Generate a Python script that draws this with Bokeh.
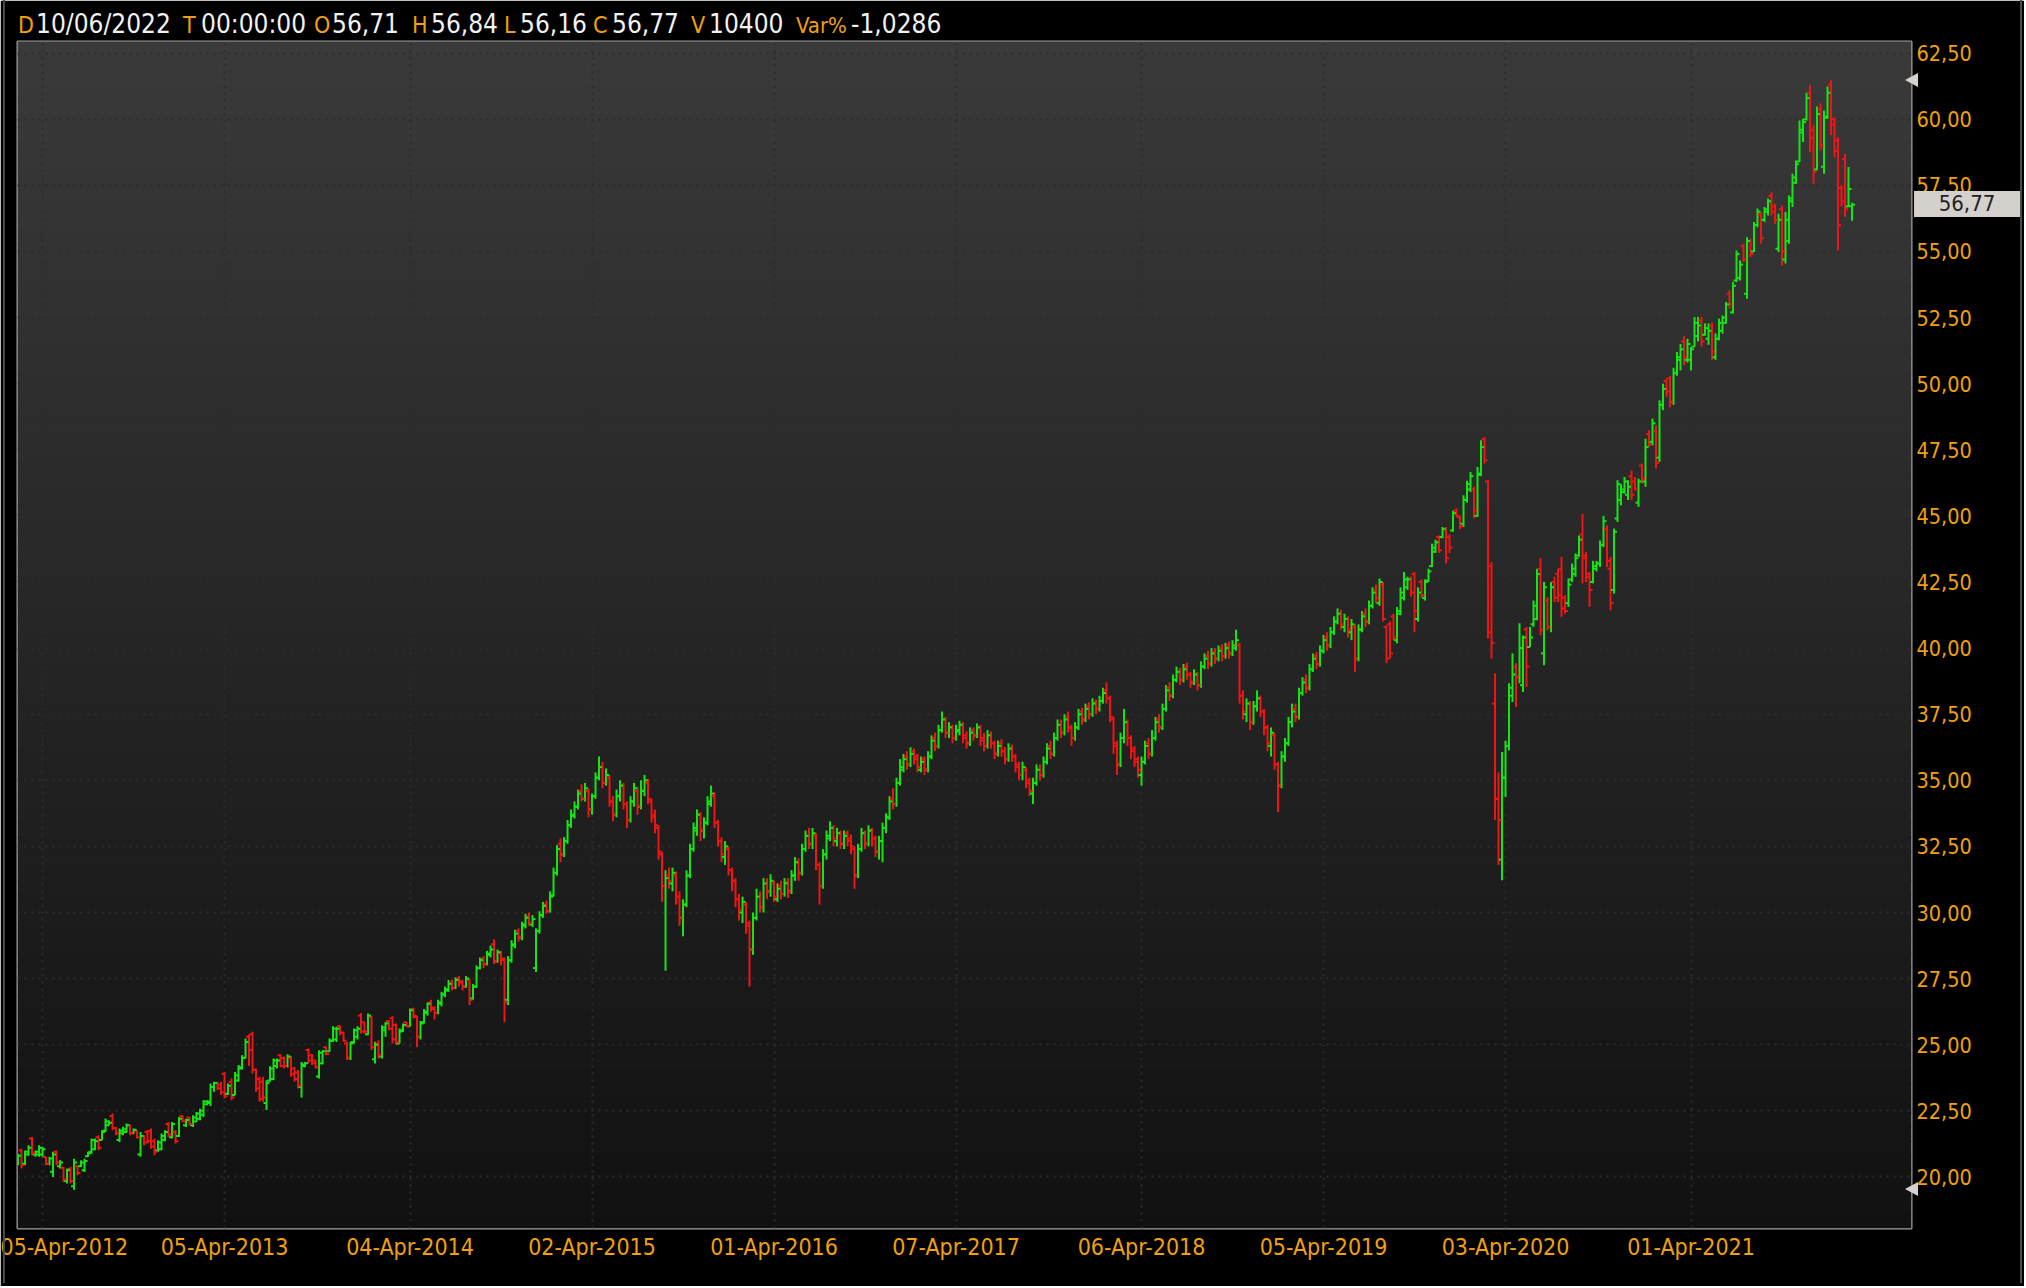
from bokeh.plotting import figure
from bokeh.layouts import column
from bokeh.models import (ColumnDataSource, Range1d, FixedTicker, CustomJSTickFormatter,
                          BoxAnnotation, Div)
from bokeh.embed import file_html
from bokeh.resources import INLINE

# ---------------- data (weekly OHLC bars) ----------------
open_ = [
    20.50, 21.00, 20.50, 20.85, 21.45, 20.85, 20.85, 20.85, 20.75, 20.50,
    20.20, 20.95, 20.40, 20.35, 19.85, 20.30, 19.65, 20.40, 20.40, 20.25,
    20.78, 20.95, 21.05, 21.50, 21.40, 21.75, 21.95, 22.30, 21.85, 21.40,
    21.65, 21.70, 21.95, 21.65, 21.75, 20.85, 21.55, 21.70, 21.75, 21.35,
    21.00, 21.05, 21.40, 22.00, 21.50, 21.70, 21.55, 22.30, 21.95, 22.25,
    21.95, 22.10, 22.20, 22.35, 22.75, 22.80, 23.40, 23.55, 23.50, 23.90,
    23.15, 23.60, 23.10, 23.65, 24.10, 24.50, 25.30, 25.40, 24.05, 23.70,
    23.60, 22.80, 23.65, 23.70, 24.20, 24.60, 24.50, 24.20, 24.50, 24.10,
    23.95, 23.40, 24.20, 24.80, 24.60, 24.40, 23.80, 24.30, 24.90, 24.75,
    25.15, 25.20, 25.70, 25.45, 25.05, 24.50, 25.10, 25.30, 26.10, 25.85,
    25.40, 26.05, 24.45, 25.05, 24.55, 25.55, 25.90, 26.00, 25.75, 25.05,
    25.55, 25.85, 25.70, 26.35, 26.05, 25.30, 25.85, 26.20, 26.60, 26.40,
    26.20, 26.55, 26.90, 27.05, 27.35, 27.15, 27.50, 27.40, 27.20, 27.45,
    26.75, 27.20, 27.90, 28.25, 28.05, 28.40, 28.80, 28.15, 28.45, 28.25,
    26.70, 28.20, 28.75, 29.30, 29.05, 29.50, 29.85, 29.55, 27.90, 29.30,
    29.90, 30.30, 30.05, 30.65, 31.50, 32.60, 32.20, 32.70, 33.30, 33.65,
    34.00, 34.60, 34.30, 34.60, 33.90, 34.40, 35.10, 35.50, 34.90, 35.10,
    34.20, 33.70, 34.40, 34.80, 34.10, 33.50, 34.20, 34.60, 34.00, 34.60,
    34.90, 34.20, 33.70, 33.20, 32.20, 31.00, 31.40, 31.10, 31.40, 30.60,
    29.80, 30.30, 31.40, 32.40, 33.10, 33.70, 33.10, 33.40, 34.10, 34.40,
    33.40, 32.70, 32.10, 32.40, 31.60, 31.20, 30.50, 30.00, 30.30, 29.60,
    28.60, 29.80, 30.60, 30.20, 31.10, 30.80, 31.10, 30.50, 31.00, 30.70,
    31.15, 30.80, 31.40, 31.90, 31.50, 32.40, 32.90, 32.60, 32.90, 31.80,
    31.00, 32.20, 32.80, 33.20, 32.70, 33.00, 32.60, 33.00, 32.80, 32.40,
    31.40, 32.40, 33.00, 32.60, 33.10, 32.80, 32.30, 32.70, 33.20, 33.60,
    34.30, 34.10, 34.90, 35.40, 35.90, 35.60, 36.10, 35.90, 35.40, 35.80,
    35.40, 35.90, 36.60, 36.30, 36.90, 37.30, 36.80, 37.00, 36.60, 36.85,
    37.10, 36.70, 36.40, 36.90, 36.70, 37.00, 36.60, 36.30, 36.70, 36.40,
    36.00, 36.40, 36.10, 35.80, 36.20, 35.90, 35.60, 35.20, 35.40, 35.00,
    34.50, 34.90, 35.40, 35.20, 35.70, 36.30, 36.00, 36.60, 37.10, 36.80,
    37.40, 37.00, 36.60, 37.00, 37.60, 37.30, 37.80, 37.50, 37.95, 37.70,
    38.00, 38.40, 38.10, 37.30, 36.40, 35.60, 36.60, 37.20, 36.60, 36.20,
    35.80, 35.20, 35.70, 36.40, 36.00, 36.60, 37.30, 37.00, 37.70, 38.50,
    38.20, 38.80, 39.10, 38.80, 39.30, 39.00, 38.70, 39.00, 38.60, 39.30,
    39.70, 39.40, 39.85, 39.60, 40.00, 39.70, 40.10, 39.80, 40.00, 40.10,
    38.20, 37.50, 37.90, 37.20, 37.80, 38.10, 37.60, 37.00, 36.30, 36.70,
    35.60, 34.80, 35.90, 36.40, 37.20, 37.70, 37.40, 38.30, 38.80, 38.50,
    39.20, 39.70, 39.40, 39.90, 40.40, 40.10, 40.60, 41.00, 41.30, 40.80,
    41.10, 40.60, 40.80, 39.60, 40.70, 41.30, 41.00, 41.60, 42.20, 41.70,
    42.40, 40.80, 40.90, 41.20, 40.30, 41.30, 41.90, 42.30, 42.60, 42.80,
    41.10, 42.50, 41.90, 42.55, 43.10, 43.65, 44.20, 44.20, 44.50, 44.20,
    44.45, 45.20, 44.95, 44.70, 45.60, 46.00, 46.00, 45.00, 46.55, 47.90,
    46.30, 43.10, 37.90, 34.30, 32.00, 35.10, 36.30, 38.50, 39.30, 38.90,
    38.60, 40.70, 40.04, 40.90, 41.10, 43.00, 39.80, 41.80, 40.80, 42.50,
    42.80, 43.00, 41.90, 41.70, 42.60, 42.80, 43.50, 44.30, 43.50, 42.70,
    42.50, 43.00, 43.20, 43.90, 44.50, 43.00, 42.20, 44.90, 45.60, 45.90,
    45.80, 46.50, 46.30, 45.50, 46.90, 46.30, 48.10, 47.80, 48.20, 47.20,
    49.20, 50.10, 50.20, 49.30, 50.40, 50.90, 51.60, 50.90, 50.90, 51.40,
    51.80, 52.40, 51.85, 51.70, 52.20, 51.00, 51.70, 52.00, 52.30, 53.40,
    52.70, 53.90, 54.00, 55.20, 53.40, 55.40, 55.00, 56.00, 56.40, 56.20,
    56.50, 57.10, 56.70, 55.10, 56.60, 54.70, 55.40, 57.00, 57.60, 58.40,
    59.50, 60.00, 61.00, 59.60, 58.10, 60.40, 58.20, 60.05, 61.30, 60.00,
    59.20, 57.40, 58.50, 56.70, 56.71,
]
high = [
    20.88, 21.07, 21.00, 21.20, 21.51, 21.00, 21.20, 21.14, 20.76, 20.76,
    20.95, 21.00, 20.63, 20.38, 20.32, 20.38, 20.69, 20.44, 20.63, 20.69,
    20.95, 21.45, 21.45, 21.58, 21.77, 22.21, 22.14, 22.40, 21.89, 21.83,
    21.90, 22.02, 21.98, 21.83, 21.77, 21.70, 21.58, 21.77, 21.83, 21.45,
    21.39, 21.64, 21.77, 22.08, 22.08, 21.77, 22.27, 22.33, 22.20, 22.27,
    22.33, 22.46, 22.58, 22.90, 22.90, 23.53, 23.60, 23.60, 23.60, 23.97,
    23.53, 23.72, 23.97, 24.23, 24.60, 25.24, 25.40, 25.49, 24.10, 23.79,
    23.79, 23.66, 24.19, 24.48, 24.48, 24.64, 24.55, 24.64, 24.57, 24.16,
    24.04, 24.35, 24.35, 24.86, 24.65, 24.42, 24.79, 24.79, 24.92, 25.24,
    25.70, 25.68, 25.74, 25.49, 25.11, 25.11, 25.61, 25.70, 26.20, 25.86,
    26.18, 26.08, 25.11, 25.17, 25.74, 25.86, 25.93, 26.08, 25.80, 25.61,
    25.80, 25.86, 26.37, 26.40, 26.10, 25.90, 26.35, 26.60, 26.70, 26.45,
    26.70, 27.00, 27.20, 27.45, 27.45, 27.55, 27.60, 27.45, 27.60, 27.50,
    27.30, 28.00, 28.30, 28.35, 28.55, 28.75, 28.98, 28.60, 28.55, 28.30,
    28.35, 28.95, 29.35, 29.40, 29.65, 29.95, 30.00, 29.90, 29.40, 30.05,
    30.40, 30.45, 30.80, 31.70, 32.55, 32.80, 32.85, 33.50, 33.90, 34.20,
    34.65, 34.85, 34.90, 34.70, 34.50, 35.30, 35.90, 35.70, 35.45, 35.20,
    34.40, 34.65, 35.00, 34.90, 34.20, 34.40, 34.90, 34.75, 35.00, 35.20,
    35.05, 34.30, 33.90, 33.30, 32.30, 31.60, 31.70, 31.70, 31.55, 30.80,
    30.50, 31.60, 32.60, 33.40, 33.90, 33.80, 33.60, 34.40, 34.80, 34.55,
    33.50, 32.85, 32.70, 32.50, 31.70, 31.30, 30.70, 30.60, 30.40, 29.70,
    30.00, 30.90, 30.80, 31.30, 31.30, 31.45, 31.20, 31.10, 31.20, 31.30,
    31.30, 31.60, 32.10, 32.05, 32.60, 33.10, 33.20, 33.20, 33.00, 31.90,
    32.40, 33.10, 33.45, 33.30, 33.20, 33.10, 33.10, 33.10, 32.95, 32.50,
    32.60, 33.20, 33.10, 33.30, 33.20, 32.90, 32.90, 33.40, 33.75, 34.40,
    34.70, 35.10, 35.80, 36.00, 36.10, 36.25, 36.20, 36.00, 35.90, 35.90,
    36.10, 36.70, 36.80, 37.10, 37.60, 37.40, 37.20, 37.10, 37.10, 37.25,
    37.20, 36.85, 37.00, 37.00, 37.15, 37.10, 36.80, 36.90, 36.85, 36.50,
    36.50, 36.55, 36.25, 36.40, 36.35, 36.00, 35.70, 35.70, 35.50, 35.10,
    35.10, 35.60, 35.60, 35.90, 36.40, 36.50, 36.80, 37.30, 37.30, 37.50,
    37.60, 37.10, 37.20, 37.70, 37.75, 37.90, 37.95, 38.10, 38.05, 38.20,
    38.50, 38.70, 38.20, 37.40, 36.50, 36.80, 37.70, 37.30, 36.70, 36.30,
    35.90, 35.90, 36.50, 36.60, 36.90, 37.40, 37.50, 37.90, 38.60, 38.70,
    39.00, 39.30, 39.25, 39.40, 39.45, 39.10, 39.20, 39.10, 39.50, 39.80,
    39.90, 40.00, 40.00, 40.10, 40.15, 40.20, 40.25, 40.30, 40.70, 40.20,
    38.40, 38.10, 38.00, 38.00, 38.40, 38.20, 37.70, 37.10, 37.00, 36.80,
    35.70, 36.10, 36.60, 37.40, 37.90, 37.90, 38.50, 38.90, 39.00, 39.40,
    39.80, 39.85, 40.10, 40.50, 40.60, 40.80, 41.20, 41.50, 41.45, 41.30,
    41.20, 41.10, 40.90, 40.90, 41.40, 41.50, 41.80, 42.30, 42.40, 42.63,
    42.50, 40.86, 41.00, 41.30, 41.55, 42.30, 42.88, 42.70, 42.70, 42.88,
    42.30, 42.60, 42.60, 43.00, 43.95, 44.10, 44.26, 44.58, 44.58, 44.30,
    45.20, 45.28, 45.00, 45.78, 46.33, 46.66, 46.10, 46.85, 47.86, 47.98,
    46.35, 43.26, 39.05, 35.30, 36.07, 36.50, 38.67, 39.80, 39.43, 40.94,
    40.48, 40.80, 40.80, 41.80, 43.00, 43.40, 42.50, 41.93, 42.50, 42.70,
    43.00, 43.45, 42.00, 42.63, 43.20, 43.58, 44.26, 45.08, 43.64, 42.88,
    43.30, 43.30, 44.07, 45.00, 44.64, 43.45, 44.52, 46.35, 46.20, 46.47,
    46.35, 46.72, 46.47, 46.41, 46.98, 47.92, 48.24, 48.68, 48.42, 49.37,
    50.00, 50.20, 50.30, 50.60, 51.20, 51.50, 51.80, 51.70, 51.39, 52.52,
    52.52, 52.52, 52.28, 52.28, 52.30, 51.90, 52.46, 52.58, 53.09, 53.53,
    53.84, 55.04, 54.66, 55.29, 55.54, 55.48, 56.11, 56.62, 56.49, 56.68,
    57.00, 57.24, 56.80, 56.43, 56.74, 56.49, 57.12, 57.94, 58.44, 59.95,
    60.02, 61.00, 61.30, 59.77, 60.48, 60.60, 60.33, 61.24, 61.47, 60.08,
    59.32, 57.50, 58.69, 58.19, 56.84,
]
low = [
    20.44, 20.32, 20.44, 20.80, 20.82, 20.76, 20.76, 20.76, 20.44, 20.44,
    20.00, 20.44, 20.32, 19.81, 19.75, 19.75, 19.52, 20.06, 20.38, 20.19,
    20.76, 20.88, 21.01, 21.01, 21.39, 21.70, 21.95, 21.77, 21.58, 21.32,
    21.58, 21.67, 21.58, 21.62, 21.45, 20.76, 21.20, 21.26, 21.07, 20.82,
    20.95, 21.01, 21.35, 21.51, 21.45, 21.26, 21.51, 22.08, 21.89, 21.95,
    21.89, 22.08, 22.14, 22.27, 22.71, 22.68, 23.22, 23.28, 23.10, 22.97,
    23.10, 22.90, 23.10, 23.60, 24.06, 24.48, 24.20, 23.91, 23.22, 22.84,
    22.84, 22.53, 23.60, 23.66, 24.10, 24.14, 24.10, 24.14, 23.79, 23.60,
    23.34, 23.00, 24.15, 24.29, 24.23, 24.10, 23.72, 24.25, 24.60, 24.73,
    25.10, 25.10, 25.36, 25.11, 24.42, 24.42, 25.05, 25.20, 25.42, 25.42,
    25.36, 24.80, 24.29, 24.48, 24.48, 25.30, 25.55, 25.05, 25.00, 25.05,
    25.48, 25.67, 25.68, 26.00, 24.90, 25.20, 25.80, 26.10, 26.25, 25.95,
    26.15, 26.45, 26.80, 27.00, 27.05, 27.10, 27.20, 27.05, 27.15, 26.50,
    26.70, 27.15, 27.85, 27.90, 28.00, 28.30, 28.05, 28.10, 28.00, 25.85,
    26.50, 28.10, 28.65, 28.90, 28.95, 29.40, 29.50, 29.45, 27.75, 29.20,
    29.80, 29.95, 30.00, 30.60, 31.40, 31.90, 32.10, 32.60, 33.20, 33.55,
    33.90, 34.20, 34.20, 33.60, 33.70, 34.30, 35.00, 34.70, 34.80, 34.00,
    33.45, 33.60, 34.20, 33.90, 33.20, 33.40, 34.00, 33.70, 33.90, 34.40,
    34.10, 33.40, 33.00, 32.00, 30.40, 27.80, 30.90, 30.80, 30.30, 29.50,
    29.10, 30.20, 31.30, 32.30, 32.90, 32.70, 32.80, 33.30, 34.00, 33.20,
    32.50, 31.90, 31.80, 31.40, 30.80, 30.20, 29.70, 29.60, 29.20, 27.20,
    28.40, 29.70, 30.00, 30.00, 30.50, 30.60, 30.40, 30.40, 30.50, 30.60,
    30.55, 30.70, 31.20, 31.20, 31.40, 32.30, 32.40, 32.40, 31.60, 30.30,
    30.90, 32.00, 32.70, 32.50, 32.50, 32.40, 32.40, 32.50, 32.20, 30.90,
    31.30, 32.30, 32.40, 32.50, 32.50, 32.10, 32.00, 31.90, 33.00, 33.50,
    33.90, 34.00, 34.80, 35.30, 35.40, 35.50, 35.60, 35.30, 35.30, 35.20,
    35.30, 35.80, 36.10, 36.20, 36.80, 36.60, 36.60, 36.40, 36.50, 36.70,
    36.40, 36.20, 36.30, 36.50, 36.60, 36.30, 36.10, 36.20, 36.20, 35.80,
    35.90, 35.90, 35.60, 35.70, 35.70, 35.30, 35.00, 35.00, 34.70, 34.40,
    34.10, 34.80, 35.00, 35.10, 35.60, 35.80, 35.90, 36.50, 36.60, 36.70,
    36.80, 36.30, 36.50, 36.90, 37.10, 37.20, 37.30, 37.40, 37.50, 37.60,
    37.90, 37.90, 37.20, 36.00, 35.20, 35.50, 36.40, 36.30, 35.80, 35.50,
    35.10, 34.80, 35.60, 35.80, 35.90, 36.50, 36.80, 36.90, 37.60, 38.00,
    38.10, 38.70, 38.60, 38.70, 38.80, 38.50, 38.60, 38.40, 38.50, 39.20,
    39.20, 39.30, 39.40, 39.50, 39.50, 39.60, 39.60, 39.70, 39.90, 37.90,
    37.30, 37.20, 36.90, 37.10, 37.60, 37.40, 36.70, 36.10, 35.90, 35.40,
    33.80, 34.70, 35.70, 36.30, 37.00, 37.20, 37.30, 38.20, 38.30, 38.40,
    39.10, 39.20, 39.30, 39.80, 39.90, 40.00, 40.50, 40.90, 40.70, 40.60,
    40.40, 40.30, 39.10, 39.50, 40.60, 40.80, 40.90, 41.50, 41.70, 41.60,
    41.00, 39.43, 39.60, 40.30, 40.18, 41.24, 41.80, 42.20, 41.95, 40.60,
    41.00, 41.90, 41.80, 42.50, 43.06, 43.60, 43.60, 44.15, 43.20, 43.60,
    44.40, 44.96, 44.50, 44.58, 45.50, 45.90, 44.90, 44.96, 46.50, 46.98,
    40.36, 39.60, 33.50, 31.80, 31.22, 34.37, 36.13, 37.96, 37.77, 38.67,
    38.34, 38.53, 40.04, 40.80, 41.05, 40.48, 39.35, 40.67, 40.60, 41.74,
    41.74, 41.18, 41.30, 41.56, 42.50, 42.70, 43.45, 42.44, 42.50, 41.56,
    42.45, 42.90, 43.07, 43.82, 43.07, 41.43, 42.06, 44.77, 45.40, 45.84,
    45.60, 45.60, 45.97, 45.34, 46.22, 46.10, 47.60, 47.67, 46.79, 47.04,
    49.00, 49.50, 49.10, 49.20, 50.30, 50.50, 50.70, 50.80, 50.50, 51.39,
    51.60, 51.40, 51.82, 51.47, 50.90, 50.90, 51.64, 51.89, 52.27, 52.84,
    52.65, 53.84, 53.90, 54.60, 53.21, 54.79, 54.98, 55.92, 55.29, 56.11,
    56.36, 56.36, 56.05, 54.98, 54.47, 54.54, 55.29, 56.68, 57.56, 58.38,
    59.14, 59.95, 58.76, 57.56, 58.07, 58.83, 57.94, 60.02, 59.39, 58.56,
    55.04, 56.70, 56.30, 56.68, 56.16,
]
close = [
    20.80, 20.45, 20.95, 21.10, 20.90, 20.95, 21.10, 21.05, 20.50, 20.70,
    20.85, 20.55, 20.55, 19.90, 20.25, 19.85, 20.55, 20.15, 20.55, 20.60,
    20.90, 21.40, 21.35, 21.10, 21.70, 22.10, 22.05, 21.85, 21.65, 21.75,
    21.80, 21.95, 21.65, 21.78, 21.50, 21.55, 21.30, 21.35, 21.15, 20.95,
    21.30, 21.55, 21.70, 21.60, 22.00, 21.35, 22.20, 22.10, 22.15, 22.00,
    22.25, 22.40, 22.50, 22.85, 22.85, 23.40, 23.55, 23.35, 23.20, 23.05,
    23.45, 23.00, 23.85, 24.15, 24.50, 25.10, 24.80, 24.05, 23.35, 22.95,
    23.00, 23.55, 24.10, 24.40, 24.40, 24.20, 24.20, 24.55, 23.90, 23.70,
    23.45, 24.25, 24.30, 24.40, 24.30, 24.15, 24.70, 24.75, 24.65, 25.15,
    25.60, 25.60, 25.45, 25.15, 24.50, 25.05, 25.55, 25.60, 25.50, 25.50,
    26.10, 24.90, 25.00, 24.60, 25.65, 25.80, 25.60, 25.20, 25.10, 25.50,
    25.75, 25.70, 26.30, 26.10, 25.30, 25.80, 26.25, 26.55, 26.35, 26.20,
    26.60, 26.90, 27.10, 27.30, 27.15, 27.45, 27.35, 27.20, 27.50, 26.70,
    27.20, 27.90, 28.20, 28.05, 28.45, 28.60, 28.15, 28.50, 28.20, 26.60,
    28.20, 28.80, 29.20, 29.05, 29.55, 29.80, 29.60, 29.75, 29.30, 29.90,
    30.25, 30.05, 30.60, 31.50, 32.40, 32.20, 32.70, 33.30, 33.70, 34.00,
    34.50, 34.30, 34.70, 33.90, 34.40, 35.10, 35.50, 34.90, 35.20, 34.20,
    33.70, 34.40, 34.80, 34.10, 33.50, 34.20, 34.70, 34.00, 34.60, 35.00,
    34.30, 33.60, 33.30, 32.30, 31.00, 31.30, 31.20, 31.50, 30.60, 29.80,
    30.30, 31.40, 32.40, 33.20, 33.70, 33.10, 33.40, 34.20, 34.50, 33.40,
    32.70, 32.20, 32.50, 31.60, 31.20, 30.50, 30.10, 30.40, 29.50, 28.60,
    29.80, 30.60, 30.20, 31.10, 30.80, 31.20, 30.60, 30.90, 30.70, 31.10,
    30.80, 31.40, 31.90, 31.50, 32.40, 32.90, 32.60, 33.00, 31.80, 31.00,
    32.20, 32.90, 33.20, 32.80, 33.00, 32.60, 32.90, 32.70, 32.50, 31.40,
    32.40, 33.00, 32.60, 33.10, 32.80, 32.30, 32.70, 33.20, 33.60, 34.20,
    34.10, 34.90, 35.50, 35.80, 35.60, 36.00, 35.80, 35.50, 35.70, 35.40,
    35.90, 36.50, 36.30, 36.90, 37.30, 36.80, 37.00, 36.60, 36.90, 37.10,
    36.60, 36.40, 36.80, 36.70, 37.00, 36.50, 36.30, 36.70, 36.40, 36.00,
    36.30, 36.10, 35.80, 36.20, 35.90, 35.50, 35.20, 35.50, 34.90, 34.60,
    34.90, 35.40, 35.20, 35.70, 36.20, 36.00, 36.60, 37.10, 36.80, 37.30,
    37.00, 36.60, 37.00, 37.50, 37.30, 37.70, 37.50, 37.90, 37.70, 38.00,
    38.30, 38.10, 37.40, 36.30, 35.60, 36.60, 37.20, 36.60, 36.10, 35.70,
    35.40, 35.70, 36.30, 36.00, 36.60, 37.20, 37.00, 37.70, 38.40, 38.20,
    38.80, 39.10, 38.80, 39.20, 39.00, 38.70, 39.00, 38.60, 39.30, 39.60,
    39.40, 39.80, 39.60, 39.90, 39.70, 40.00, 39.80, 40.10, 40.30, 38.20,
    37.60, 37.90, 37.20, 37.80, 38.10, 37.60, 37.00, 36.40, 36.80, 35.60,
    34.80, 35.90, 36.40, 37.20, 37.60, 37.40, 38.30, 38.70, 38.50, 39.20,
    39.60, 39.40, 39.90, 40.30, 40.10, 40.60, 41.00, 41.30, 40.90, 41.10,
    40.70, 40.90, 39.60, 40.70, 41.20, 41.00, 41.60, 42.10, 41.90, 42.50,
    41.10, 39.60, 39.80, 40.40, 41.40, 42.10, 42.60, 42.60, 42.10, 41.40,
    42.10, 42.00, 42.50, 42.90, 43.80, 44.00, 43.70, 44.50, 43.40, 43.80,
    45.10, 45.00, 44.60, 45.60, 46.20, 46.50, 45.20, 46.60, 47.60, 47.10,
    40.60, 40.20, 34.30, 33.50, 35.10, 36.30, 38.20, 39.00, 38.90, 40.00,
    40.40, 39.30, 40.40, 41.60, 42.80, 40.70, 42.30, 40.80, 42.30, 41.90,
    42.00, 41.50, 41.40, 42.40, 43.00, 43.40, 44.10, 43.40, 42.80, 42.20,
    43.10, 43.20, 43.90, 44.80, 43.30, 41.70, 44.40, 46.20, 46.00, 46.30,
    46.10, 45.80, 46.00, 46.30, 46.40, 47.60, 47.70, 48.50, 47.00, 49.20,
    49.80, 49.70, 49.30, 50.40, 51.00, 51.30, 51.00, 51.50, 51.30, 52.30,
    52.20, 51.60, 52.10, 52.00, 51.20, 51.70, 52.30, 52.50, 53.00, 53.00,
    53.70, 54.90, 54.50, 54.70, 55.40, 54.90, 56.00, 56.50, 55.50, 56.60,
    56.90, 56.50, 56.20, 56.20, 55.00, 56.20, 56.90, 57.80, 58.30, 59.60,
    59.90, 60.80, 59.30, 58.00, 60.20, 59.00, 60.10, 61.00, 59.80, 58.80,
    56.00, 56.90, 56.60, 57.36, 56.77,
]

x_tick_bars = [7, 59, 112, 164, 216, 268, 321, 373, 425, 478]
x_tick_labels = ["05-Apr-2012", "05-Apr-2013", "04-Apr-2014", "02-Apr-2015", "01-Apr-2016",
                 "07-Apr-2017", "06-Apr-2018", "05-Apr-2019", "03-Apr-2020", "01-Apr-2021"]
y_ticks = [20.0, 22.5, 25.0, 27.5, 30.0, 32.5, 35.0, 37.5, 40.0, 42.5,
           45.0, 47.5, 50.0, 52.5, 55.0, 57.5, 60.0, 62.5]
last_date = "10/06/2022"
last_time = "00:00:00"
last_volume = 10400

# ---------------- styling / layout ----------------
FONT = "DejaVu Sans Condensed"
CSS_FONT = "'DejaVu Sans Condensed', 'DejaVu Sans', sans-serif"
ORANGE = "#f0a010"
WHITE = "#f2f2f2"
GREEN = "#14e614"
RED = "#f01414"

W, H = 2024, 1286
FL, FT, FR, FB = 17, 41, 1911, 1228          # frame edges on the page
y_lo, y_hi = 18.05, 62.94

n = len(close)
idx = list(range(n))
colors = [GREEN if c >= o else RED for o, c in zip(open_, close)]

p = figure(width=W, height=H, output_backend="svg", toolbar_location=None,
           title=None, x_range=Range1d(-0.15, 541.0), y_range=Range1d(y_lo, y_hi),
           y_axis_location="right", min_border_left=FL, min_border_right=W - FR,
           min_border_top=FT, min_border_bottom=H - FB,
           background_fill_color="#111111", border_fill_color="#000000",
           outline_line_color="#a29ea6", outline_line_width=2)

# vertical background gradient (light at top, dark at bottom)
nb = 82
for k in range(nb):
    b = y_lo + (y_hi - y_lo) * k / nb
    t = y_lo + (y_hi - y_lo) * (k + 1) / nb + 0.03
    g = round(17 + (58 - 17) * (k + 0.5) / nb)
    p.add_layout(BoxAnnotation(bottom=b, top=t, fill_color="#%02x%02x%02x" % (g, g, g),
                               fill_alpha=1.0, line_color=None, level="image"))

# axes
xa = p.xaxis[0]
xa.ticker = FixedTicker(ticks=x_tick_bars)
xa.major_label_overrides = {b: lab for b, lab in zip(x_tick_bars, x_tick_labels)}
ya = p.yaxis[0]
ya.ticker = FixedTicker(ticks=y_ticks)
ya.formatter = CustomJSTickFormatter(code="return tick.toFixed(2).replace('.', ',');")
for ax in (xa, ya):
    ax.axis_line_color = None
    ax.major_tick_line_color = None
    ax.minor_tick_line_color = None
    ax.major_tick_out = 0
    ax.major_label_text_color = ORANGE
    ax.major_label_text_font = FONT
xa.major_label_text_font_size = "23px"
ya.major_label_text_font_size = "21.5px"
xa.major_label_standoff = 5
ya.major_label_standoff = 5

for gr, tk in ((p.xgrid[0], x_tick_bars), (p.ygrid[0], y_ticks)):
    gr.ticker = FixedTicker(ticks=tk)
    gr.grid_line_color = "#2c2c2c"
    gr.grid_line_dash = "2 5"
    gr.grid_line_width = 2

# OHLC bars
src = ColumnDataSource(dict(x=idx, o=open_, h=high, l=low, c=close,
                            xl=[i - 0.85 for i in idx], xr=[i + 0.85 for i in idx],
                            color=colors))
p.segment(x0="x", y0="l", x1="x", y1="h", line_color="color", line_width=2, source=src)
p.segment(x0="xl", y0="o", x1="x", y1="o", line_color="color", line_width=2, source=src)
p.segment(x0="x", y0="c", x1="xr", y1="c", line_color="color", line_width=2, source=src)


def page_y(v):
    return FT + (y_hi - v) / (y_hi - y_lo) * (FB - FT)


def fmt(v, d=2):
    return ("%.*f" % (d, v)).replace(".", ",")


def abs_div(left, top, width, height, html):
    return Div(text=html, width=width, height=height,
               styles={"position": "absolute", "left": "%dpx" % left, "top": "%dpx" % top,
                       "margin": "0", "padding": "0", "z-index": "10"})


# header line (HTML overlay in the top border): letters in orange, values in white
var_pct = (close[-1] / close[-2] - 1) * 100
pieces = [
    (18, "D", ORANGE, 23), (36, last_date, WHITE, 26),
    (183, "T", ORANGE, 23), (201, last_time, WHITE, 26),
    (314, "O", ORANGE, 23), (332, fmt(open_[-1]), WHITE, 26),
    (412, "H", ORANGE, 23), (431, fmt(high[-1]), WHITE, 26),
    (504, "L", ORANGE, 23), (520, fmt(low[-1]), WHITE, 26),
    (593, "C", ORANGE, 23), (612, fmt(close[-1]), WHITE, 26),
    (691, "V", ORANGE, 23), (709, str(last_volume), WHITE, 26),
    (796, "Var%", ORANGE, 22), (851, fmt(var_pct, 4), WHITE, 26),
]
spans = "".join(
    '<span style="position:absolute;left:%dpx;bottom:4px;color:%s;font-size:%dpx;line-height:1;">%s</span>'
    % (x, col, fs, t)
    for x, t, col, fs in pieces)
header = abs_div(0, 9, 1000, 32,
                 '<div style="position:relative;width:1000px;height:32px;'
                 'font-family:%s;white-space:nowrap;">%s</div>'
                 % (CSS_FONT, spans))

# last price box on the price axis
bt = round(page_y(close[-1]) - 13)
price_box = abs_div(1914, bt, 106, 26,
                    '<div style="width:106px;height:26px;background:#d4d0cc;color:#222222;'
                    'font-family:%s;font-size:22px;line-height:26px;text-align:center;">%s</div>'
                    % (CSS_FONT, fmt(close[-1])))

# max / min markers at the right edge of the frame
markers = []
for lev in (max(high), min(low)):
    ty = round(page_y(lev) - 7)
    markers.append(abs_div(1905, ty, 13, 14,
                           '<div style="width:0;height:0;border-top:7px solid transparent;'
                           'border-bottom:7px solid transparent;border-right:13px solid #d6d2ce;"></div>'))

# thin window chrome lines at the left and right edges
edges = [abs_div(3, 0, 2, 1283, '<div style="width:2px;height:1283px;background:#4a4a4a;"></div>'),
         abs_div(2020, 0, 2, 1283, '<div style="width:2px;height:1283px;background:#4a4a4a;"></div>')]

layout = column(p, header, price_box, *markers, *edges)
open("out.html", "w").write(file_html(layout, INLINE))
